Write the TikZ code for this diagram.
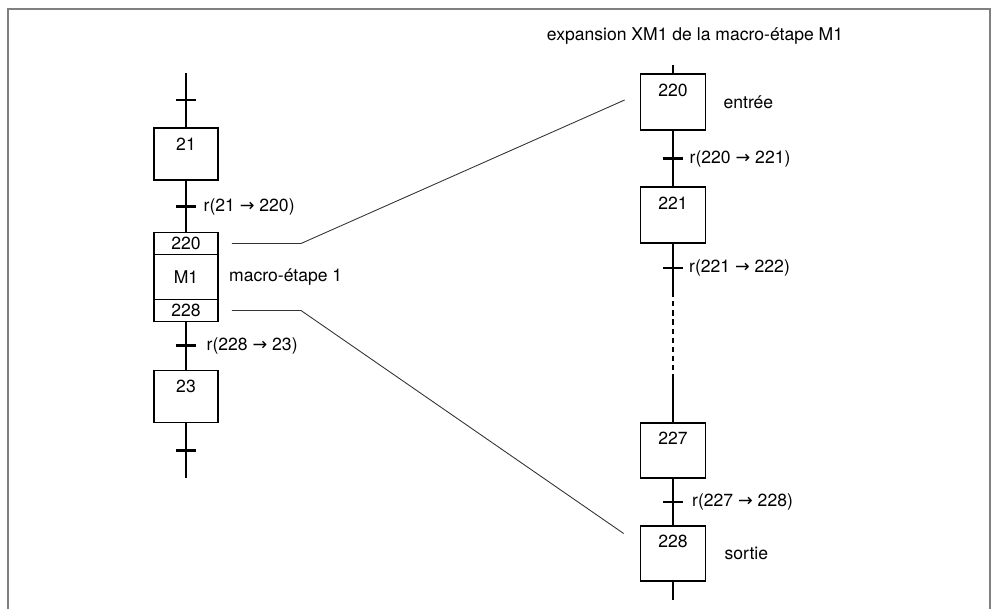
\documentclass[tikz,border=0pt]{standalone}
\usepackage{fontspec}
\setmainfont{TeX Gyre Heros}
\newfontfamily\arrowfont{DejaVu Sans}
\newcommand\versto{{\arrowfont →}}
\usetikzlibrary{positioning}

\tikzset{
  stepbox/.style={draw, line width=1pt, minimum width=1.28cm, inner sep=3pt,
                  text height=9.5pt, text depth=14pt},
  bigstep/.style={stepbox, minimum width=1.3cm, text depth=16pt},
  macrorow/.style={draw, line width=1pt, minimum width=1.28cm, minimum height=0.44cm,
                   inner sep=0pt, outer sep=0pt},
  trans/.style={fill, minimum width=0.4cm, minimum height=1.4pt,
                inner sep=0pt, outer sep=0pt},
  link/.style={line width=1pt},
  renvoi/.style={line width=0.5pt, black!80},
  cadre/.style={line width=0.8pt, black!50},
}

\begin{document}
\begin{tikzpicture}[x=0.02cm, y=-0.02cm, font=\fontsize{10}{12}\selectfont]
  \useasboundingbox (0,0) rectangle (995,609);
  \draw[cadre] (8,609) -- (8,9) -- (990,9) -- (990,609);

  % grafcet de niveau superieur
  \coordinate (lhaut) at (186,73);
  \node[stepbox]  (s21)  at (186,154)   {21};
  \node[macrorow] (m220) at (186,243.5) {220};
  \node[macrorow, minimum height=0.9cm] (mM1) [below=0pt of m220] {M1};
  \node[macrorow] (m228) [below=0pt of mM1] {228};
  \node[stepbox]  (s23)  at (186,396.5) {23};
  \coordinate (lbas) at (186,478);
  \node[anchor=west] (nomM1) [right=0.1cm of mM1] {macro-étape 1};

  \draw[link] (lhaut) -- node[trans] (t0) {} (s21);
  \draw[link] (s21) -- node[trans, label={[label distance=0.02cm]right:r(21 \versto\ 220)}] (t1) {} (m220);
  \draw[link] (m228) -- node[trans, label={[label distance=0.08cm]right:r(228 \versto\ 23)}] (t2) {} (s23);
  \draw[link] (s23) -- node[trans] (t3) {} (lbas);

  % expansion de la macro-etape
  \node (titre) at (695,36) {expansion XM1 de la macro-étape M1};
  \coordinate (rhaut) at (673,65);
  \node[bigstep] (e220) at (673,102)   {220};
  \node[bigstep] (e221) at (673,215)   {221};
  \node[bigstep] (e227) at (673,450.5) {227};
  \node[bigstep] (e228) at (673,553.5) {228};
  \coordinate (rbas) at (673,600);
  \node[anchor=west] (entree) [right=0.22cm of e220] {entrée};
  \node[anchor=west] (sortie) [right=0.24cm of e228] {sortie};

  \draw[link] (rhaut) -- (e220);
  \draw[link] (e220) -- node[trans, label={[label distance=0cm]right:r(220 \versto\ 221)}] (t4) {} (e221);
  \node[trans, label={[label distance=0cm]right:r(221 \versto\ 222)}] (t5) at (673,268) {};
  \draw[link] (e221) -- (t5) -- ++(0,24) coordinate (p1);
  \draw[link, dash pattern=on 3pt off 2.2pt] (p1) -- ++(0,88) coordinate (p2);
  \draw[link] (p2) -- (e227);
  \draw[link] (e227) -- node[trans, label={[label distance=0.05cm]right:r(227 \versto\ 228)}] (t6) {} (e228);
  \draw[link] (e228) -- (rbas);

  % renvois entre les deux niveaux
  \coordinate (a1) at ([xshift=0.28cm]m220.east);
  \coordinate (a2) at ([xshift=-0.3cm, yshift=0.04cm]e220.west);
  \coordinate (a3) at ([xshift=0.28cm]m228.east);
  \coordinate (a4) at ([xshift=-0.32cm, yshift=0.4cm]e228.west);
  \draw[renvoi] (a1) -- ++(69,0) -- (a2);
  \draw[renvoi] (a3) -- ++(69,0) -- (a4);
\end{tikzpicture}
\end{document}
